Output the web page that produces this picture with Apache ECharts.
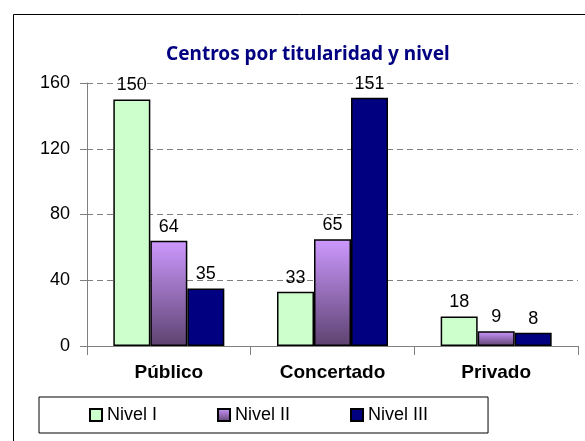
<!DOCTYPE html>
<html>
<head>
<meta charset="utf-8">
<script src="https://cdn.jsdelivr.net/npm/echarts@6/dist/echarts.min.js"></script>
<style>
  html, body { margin: 0; padding: 0; background: #fff; }
  #chart { width: 585px; height: 441px; }
</style>
</head>
<body>
<div id="chart"></div>
<script>
  // datos
  const categorias = ['Público', 'Concertado', 'Privado']
  const nivel1 = [150, 33, 18]
  const nivel2 = [64, 65, 9]
  const nivel3 = [35, 151, 8]
  const ejeY = [0, 40, 80, 120, 160]

  const chart = echarts.init(document.getElementById('chart'))

  const morado = new echarts.graphic.LinearGradient(0, 0, 0, 1, [
    { offset: 0, color: '#cc99ff' },
    { offset: 1, color: '#5e4270' }
  ])

  const fuente = 'Liberation Sans, Arial'

  const etiqueta = {
    show: true,
    position: 'top',
    distance: 5,
    color: '#000',
    fontFamily: fuente,
    fontSize: 18
  }

  function serie(name, data, color) {
    return {
      name: name,
      type: 'bar',
      data: data,
      barWidth: 37,
      barGap: '0%',
      itemStyle: { color: color, borderColor: '#000', borderWidth: 1.5 },
      label: etiqueta
    }
  }

  const option = {
    animation: false,
    title: {
      text: 'Centros por titularidad y nivel',
      left: 161,
      top: 40,
      textStyle: {
        color: '#000080',
        fontFamily: 'Noto Sans',
        fontWeight: 'bold',
        fontSize: 19
      }
    },
    graphic: [{
      type: 'rect',
      shape: { x: 13.5, y: 14.5, width: 700, height: 600 },
      style: { fill: 'none', stroke: '#000', lineWidth: 1 },
      silent: true
    }],
    legend: {
      left: 39,
      top: 397,
      orient: 'horizontal',
      itemWidth: 12,
      itemHeight: 12,
      itemGap: 60,
      padding: [9, 60, 9, 50],
      borderColor: '#000',
      borderWidth: 1,
      icon: 'rect',
      textStyle: {
        fontFamily: fuente,
        fontSize: 18,
        color: '#000'
      },
      data: ['Nivel I', 'Nivel II', 'Nivel III']
    },
    grid: {
      left: 87,
      right: 7,
      top: 83,
      bottom: 95,
      containLabel: false
    },
    xAxis: {
      type: 'category',
      data: categorias,
      axisLine: { lineStyle: { color: '#808080', width: 1 } },
      axisTick: { show: true, length: 9, lineStyle: { color: '#808080' } },
      axisLabel: {
        margin: 17,
        color: '#000',
        fontFamily: fuente,
        fontWeight: 'bold',
        fontSize: 19
      }
    },
    yAxis: {
      type: 'value',
      min: ejeY[0],
      max: ejeY[ejeY.length - 1],
      interval: 40,
      axisLine: { show: true, lineStyle: { color: '#808080', width: 1 } },
      axisTick: { show: true, length: 7, lineStyle: { color: '#808080' } },
      axisLabel: {
        margin: 17,
        color: '#000',
        fontFamily: fuente,
        fontSize: 18
      },
      splitLine: {
        show: true,
        lineStyle: { color: '#808080', type: [6, 4], width: 1 }
      }
    },
    series: [
      serie('Nivel I', nivel1, '#ccffcc'),
      serie('Nivel II', nivel2, morado),
      serie('Nivel III', nivel3, '#000080')
    ]
  }

  chart.setOption(option)
</script>
</body>
</html>
